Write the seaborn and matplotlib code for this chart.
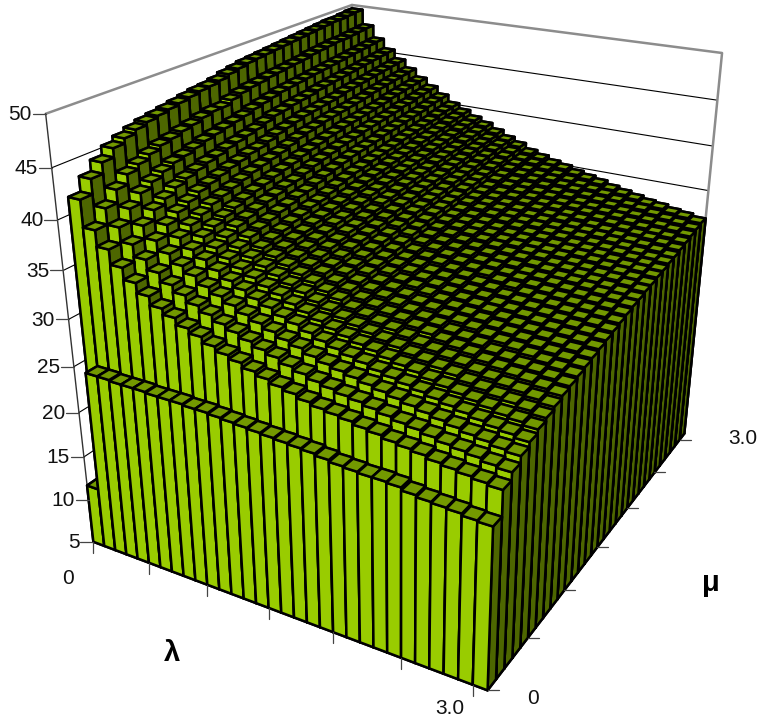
import numpy as np
import matplotlib
matplotlib.use('Agg')
import matplotlib.pyplot as plt
from matplotlib.lines import Line2D
from matplotlib.transforms import IdentityTransform
from mpl_toolkits.mplot3d import proj3d
import seaborn as sns

W, H = 768, 718

# bar heights in tenths, one list per mu step, lambda runs left to right
mu_00 = [117,247,247,246,246,246,245,245,245,244,244,243,242,241,240,239,238,237,236,234,232,231,230,230,229,226,224,223,222,220,219]
mu_01 = [417,390,374,359,347,337,328,322,315,310,304,299,295,290,286,282,279,275,272,270,268,265,263,260,258,256,253,251,249,247,245]
mu_02 = [432,406,390,376,364,354,345,338,331,325,319,314,309,304,300,295,291,287,284,281,279,276,273,270,268,265,262,260,258,255,253]
mu_03 = [443,419,403,389,377,367,358,351,343,337,331,325,320,315,310,306,301,297,294,291,288,285,282,279,276,273,270,267,265,262,260]
mu_04 = [452,429,413,399,387,377,368,361,353,346,340,334,329,323,319,314,309,305,301,298,294,291,288,285,282,279,276,273,270,268,265]
mu_05 = [457,434,419,405,394,384,375,367,359,352,346,340,335,329,324,319,314,310,306,303,299,296,293,289,286,283,280,277,274,272,269]
mu_06 = [461,439,424,411,399,389,380,372,364,357,351,345,339,334,328,323,318,314,310,306,303,299,296,293,290,286,283,280,278,275,272]
mu_07 = [464,443,428,415,404,394,384,377,369,361,355,349,343,338,332,327,321,317,313,310,306,302,299,296,293,289,286,283,281,278,275]
mu_08 = [466,445,430,418,407,397,388,380,372,364,358,352,346,341,335,330,324,320,316,313,309,306,302,299,296,292,289,286,284,281,278]
mu_09 = [468,448,433,421,410,400,391,383,375,367,361,355,349,343,338,332,327,323,319,315,311,308,304,301,298,294,291,288,286,283,280]
mu_10 = [470,450,436,423,413,403,394,386,378,370,363,358,352,346,340,335,329,325,321,317,314,310,307,304,300,297,294,291,288,285,282]
mu_11 = [472,453,438,426,415,406,396,388,380,372,366,360,354,349,343,337,332,327,324,320,316,312,309,306,302,299,296,293,290,287,284]
mu_12 = [474,455,440,428,418,408,399,391,383,375,368,363,357,351,345,339,334,330,326,322,318,314,311,308,304,301,298,295,292,289,286]
mu_13 = [475,455,442,430,419,410,401,392,384,376,370,364,358,353,347,341,335,331,327,324,320,316,313,309,306,303,300,297,294,291,288]
mu_14 = [477,459,444,432,422,412,403,395,387,379,372,367,361,355,349,343,337,333,330,326,322,318,315,311,308,305,302,299,296,293,290]
mu_15 = [480,462,447,435,425,415,406,398,390,382,375,369,363,358,352,346,340,336,332,328,324,321,317,314,310,307,304,301,298,295,292]
mu_16 = [482,464,449,438,427,418,408,400,392,384,377,372,366,360,354,348,342,338,334,330,326,323,319,316,312,309,306,303,300,297,294]
mu_17 = [484,465,451,439,429,420,410,402,394,386,379,373,367,362,356,350,344,340,336,332,328,324,321,317,314,311,308,305,302,299,296]
mu_18 = [485,467,453,441,431,421,412,404,396,387,381,375,369,363,357,352,346,342,338,334,330,326,323,319,316,312,310,307,304,301,298]
mu_19 = [486,468,454,442,432,423,413,405,397,389,382,376,371,365,359,353,347,343,339,335,331,328,324,321,317,314,311,308,305,302,299]
mu_20 = [487,469,455,443,433,424,415,406,398,390,384,378,372,366,360,354,348,344,340,336,332,329,325,322,319,315,312,309,307,304,301]
mu_21 = [488,470,456,445,434,425,416,408,399,391,385,379,373,367,361,355,350,346,342,338,334,330,327,323,320,317,314,311,308,305,302]
mu_22 = [489,471,457,446,435,426,417,409,401,392,386,380,374,368,363,357,351,347,343,339,335,332,328,325,321,318,315,312,309,307,304]
mu_23 = [490,473,458,447,437,427,418,410,402,394,387,381,376,370,364,358,352,348,344,340,336,333,329,326,323,319,316,314,311,308,305]
mu_24 = [491,474,459,448,438,428,419,411,403,395,389,383,377,371,365,359,353,349,346,342,338,334,331,327,324,321,318,315,312,309,307]
mu_25 = [492,475,460,449,439,430,420,412,404,396,390,384,378,372,366,360,355,351,347,343,339,336,332,329,325,322,319,316,314,311,308]
mu_26 = [493,476,461,450,440,431,422,414,405,397,391,385,379,374,368,362,356,352,348,344,341,337,334,331,327,324,321,318,316,313,310]
mu_27 = [494,476,462,451,441,432,423,414,406,398,392,386,381,375,369,363,358,354,350,346,342,339,335,332,329,326,323,320,317,315,312]
mu_28 = [494,477,463,452,442,433,424,416,408,400,394,388,382,376,371,365,359,355,351,348,344,341,337,334,331,327,325,322,319,317,314]
mu_29 = [495,478,464,453,443,434,425,417,409,401,395,389,383,377,372,366,360,357,353,349,345,342,339,336,332,329,327,324,321,319,316]
mu_30 = [496,479,465,454,444,435,426,418,410,402,396,390,385,379,373,368,362,358,354,351,347,344,341,337,334,331,328,326,323,321,318]

mu_rows = [mu_00, mu_01, mu_02, mu_03, mu_04, mu_05, mu_06, mu_07, mu_08, mu_09, mu_10,
           mu_11, mu_12, mu_13, mu_14, mu_15, mu_16, mu_17, mu_18, mu_19, mu_20,
           mu_21, mu_22, mu_23, mu_24, mu_25, mu_26, mu_27, mu_28, mu_29, mu_30]

z_ticks = [5, 10, 15, 20, 25, 30, 35, 40, 45, 50]
grid_lines = [10, 15, 20, 25, 30, 35, 40, 45]
xy_ticks = [0, .5, 1.0, 1.5, 2.0, 2.5, 3.0]
step = .1
floor = 5
edge = 3.1

sns.set_style('white')
plt.rcParams['font.family'] = ['Liberation Sans', 'DejaVu Sans']

fig = plt.figure(figsize=(W/100, H/100), dpi=100)
ax = fig.add_axes([12.5/W, 25/H, 773.2/W, 773.2/H], projection='3d', computed_zorder=False)
ax.view_init(elev=24.3741, azim=-60.3913, roll=-0.1752)
ax.set_proj_type('persp', focal_length=0.3252)
ax.set_box_aspect((0.8787, 1, 0.8834))
ax.set_axis_off()

bright, top, dark = sns.color_palette(['#99CC00', '#739900', '#4D6600'])
faces = [dark, top, bright, dark, dark, dark]

# far bars first, the painter order is what hides the bars behind
zo = 10
for j in range(len(mu_rows)-1, -1, -1):
    for i, h in enumerate(mu_rows[j]):
        c = ax.bar3d(i*step, j*step, floor, step, step, h/10-floor, color=faces, shade=False,
                     edgecolor='black', linewidth=1.8)
        c.set_zorder(zo)
        zo += 1
ax.set_xlim(0, edge)
ax.set_ylim(0, edge)
ax.set_zlim(floor, 50)

for z in grid_lines:
    ax.plot([0, 0, edge], [0, edge, edge], [z, z, z], color='black', lw=.8, zorder=2)
ax.plot([0, 0, edge, edge], [0, edge, edge, edge], [50, 50, 50, floor], color='#8C8C8C', lw=1.8, zorder=3)
ax.plot([0, 0], [edge, edge], [floor, 50], color='#8C8C8C', lw=1.8, zorder=3)
ax.plot([0, 0], [0, 0], [floor, 50], color='#333333', lw=1.0, zorder=4)

M = ax.get_proj()

def screen(l, m, z):
    x, y, _ = proj3d.proj_transform(np.array([l]), np.array([m]), np.array([z]), M)
    return ax.transData.transform((x[0], y[0]))

def tick(l, m, z, dx, dy):
    p = screen(l, m, z)
    fig.add_artist(Line2D([p[0], p[0]+dx], [p[1], p[1]+dy], color='#444444', lw=.9,
                          transform=IdentityTransform()))

for z in z_ticks:
    tick(0, 0, z, -13, 0)
    p = screen(0, 0, z)
    fig.text((p[0]-14)/W, (p[1]-1)/H, str(z), ha='right', va='center', fontsize=15, color='#111111')
for l in xy_ticks:
    tick(l, 0, floor, 0, -11)
for m in xy_ticks:
    tick(edge, m, floor, 11, 0)

fig.text(68/W, 1-579/H, '0', ha='center', va='center', fontsize=15, color='#111111')
fig.text(450/W, 1-709/H, '3.0', ha='center', va='center', fontsize=15, color='#111111')
fig.text(533/W, 1-698/H, '0', ha='center', va='center', fontsize=15, color='#111111')
fig.text(743/W, 1-439/H, '3.0', ha='center', va='center', fontsize=15, color='#111111')
fig.text(172/W, 1-653/H, 'λ', ha='center', va='center', fontsize=21, weight='bold', color='black')
fig.text(711/W, 1-583/H, 'μ', ha='center', va='center', fontsize=21, weight='bold', color='black')

fig.savefig('out.png', dpi=100)
